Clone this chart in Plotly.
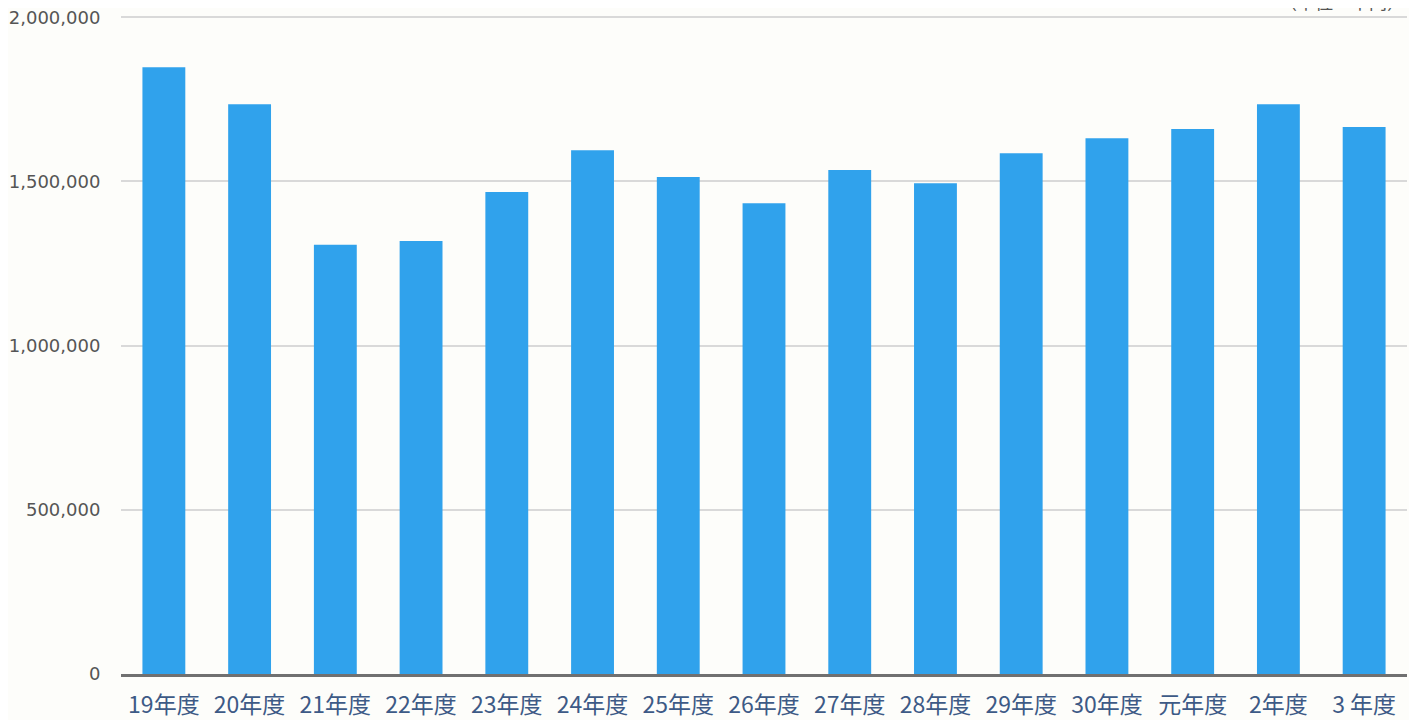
import plotly.graph_objects as go

categories = ["19年度", "20年度", "21年度", "22年度", "23年度", "24年度", "25年度", "26年度",
              "27年度", "28年度", "29年度", "30年度", "元年度", "2年度", "3 年度"]
values = [1848000, 1735000, 1307000, 1319000, 1468000, 1595000, 1514000, 1434000,
          1535000, 1495000, 1586000, 1632000, 1660000, 1735000, 1666000]
y_ticks = [0, 500000, 1000000, 1500000, 2000000]
y_tick_labels = ["0", "500,000", "1,000,000", "1,500,000", "2,000,000"]
unit_label = "（単位：千円）"

fig = go.Figure(go.Bar(x=categories, y=values, marker=dict(color="#30a2ec", line=dict(width=0)), width=0.5))

fig.update_layout(
    width=1401, height=720,
    margin=dict(l=113, r=2, t=8, b=54),
    paper_bgcolor="#fdfdfa", plot_bgcolor="#fdfdfa",
    showlegend=False,
    font=dict(family="Noto Sans CJK JP"),
)
fig.update_xaxes(
    showline=True, linecolor="#707070", linewidth=3,
    tickfont=dict(size=23, color="#3d5a86", family="Noto Sans CJK JP"),
    ticks="outside", ticklen=8, tickcolor="rgba(0,0,0,0)", showgrid=False,
    automargin=False,
)
fig.update_yaxes(
    range=[0, 2004000], tickvals=y_ticks, ticktext=y_tick_labels,
    showgrid=True, gridcolor="#d9d9d9", gridwidth=2,
    tickfont=dict(size=18, color="#555555", family="DejaVu Sans"),
    ticks="outside", ticklen=16, tickcolor="rgba(0,0,0,0)",
    ticklabeloverflow="allow", automargin=False,
    zeroline=False,
)
fig.add_annotation(text=unit_label, xref="paper", yref="paper", x=1.0, y=1.0,
                   xanchor="right", yanchor="bottom", yshift=0, showarrow=False,
                   font=dict(size=18, color="#555555", family="Noto Sans CJK JP"))
fig.write_html("out.html")
